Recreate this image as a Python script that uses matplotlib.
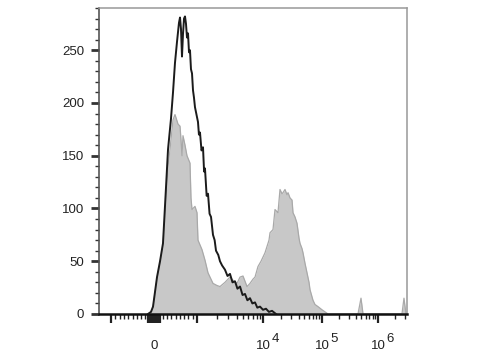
import numpy as np
import matplotlib
matplotlib.use("Agg")
import matplotlib.pyplot as plt
from matplotlib.ticker import MultipleLocator, FixedLocator, FixedFormatter
from matplotlib.transforms import blended_transform_factory, ScaledTranslation

# ---------------- data (fluorescence intensity, event count) ----------------
black_x = [-140, -70, -23, 70, 140, 209, 279, 326, 395, 442, 488, 535, 581, 605,
           628, 651, 674, 698, 721, 744, 767, 791, 814, 837, 860, 884, 907, 930,
           953, 1035, 1070, 1110, 1170, 1233, 1280, 1321, 1400, 1468, 1550,
           1631, 1747, 1850, 1941, 2100, 2230, 2400, 2653, 2900, 3162, 3450,
           3765, 4100, 4487, 4900, 5337, 5800, 6353, 6900, 7570, 8200, 9010,
           10000, 11240, 12600, 14220, 16600]
black_y = [0, 2, 7, 35, 50, 67, 120, 156, 185, 210, 238, 258, 276, 281,
           270, 244, 265, 280, 282, 275, 262, 266, 248, 250, 232, 228, 212, 205,
           196, 182, 170, 172, 155, 158, 135, 138, 112, 114, 95,
           92, 75, 70, 60, 56, 50, 46, 42, 36, 38, 30,
           31, 24, 26, 18, 19, 13, 15, 10, 11, 6, 7,
           4, 5, 2, 3, 0]

gray_x = [-140, -70, -23, 70, 140, 209, 279, 326, 372, 419, 442, 488, 535, 558,
          605, 628, 651, 674, 721, 767, 837, 860, 884, 953, 1000, 1035, 1190,
          1321, 1468, 1747, 2009, 2230, 2653, 3162, 3510, 4036, 4487, 4978,
          5728, 6353, 7047, 7570, 8395, 9330, 10000, 10810, 11690, 12640,
          13150, 14770, 15970, 17260, 17950, 19410, 20990, 21830, 23600,
          25520, 26550, 28700, 31040, 32240, 34850, 37690, 40750, 42370,
          45810, 47640, 51520, 55710, 60240, 62640, 70340, 76050, 85510,
          100000, 113200, 128000, 439500, 497000, 540000, 2680000, 2910000,
          3160000]
gray_y = [0, 2, 6, 33, 48, 65, 110, 140, 156, 175, 184, 189, 183, 180,
          178, 165, 150, 169, 160, 150, 143, 110, 99, 102, 96, 70, 61,
          51, 39, 29, 27, 26, 30, 35, 32, 29, 35, 36,
          26, 29, 33, 35, 45, 50, 54, 58, 64, 70,
          77, 80, 99, 97, 96, 118, 114, 115, 118,
          113, 115, 110, 108, 96, 92, 86, 72, 67,
          62, 58, 48, 39, 30, 23, 13, 9, 7,
          4, 2, 0, 0, 15, 0, 0, 15,
          0]

y_major = [0, 50, 100, 150, 200, 250]
x_label_values = [0, 1e4, 1e5, 1e6]
x_label_text = ["0", "10", "10", "10"]
x_label_exp = ["", "4", "5", "6"]

# ---------------- biexponential-like display scale ----------------
DEC = np.array([3.0, 4.0, 5.0, 6.0, 7.0])
POS = np.array([43.0, 109.0, 168.0, 224.0, 280.0])
LIN_V, LIN_U = 1000.0, 43.0


def fwd(v):
    v = np.asarray(v, dtype=float)
    a = np.abs(v)
    lin = a / LIN_V * LIN_U
    lg = np.interp(np.log10(np.maximum(a, LIN_V)), DEC, POS)
    return np.sign(v) * np.where(a <= LIN_V, lin, lg)


def inv(u):
    u = np.asarray(u, dtype=float)
    b = np.abs(u)
    lin = b / LIN_U * LIN_V
    lg = 10.0 ** np.interp(np.maximum(b, LIN_U), POS, DEC)
    return np.sign(u) * np.where(b <= LIN_U, lin, lg)


plt.rcParams['font.family'] = ['Liberation Sans', 'DejaVu Sans']

fig = plt.figure(figsize=(4.8, 3.6), dpi=100)
ax = fig.add_axes([99 / 480, 46 / 360, 308 / 480, 306 / 360])
ax.set_xscale('function', functions=(fwd, inv))

ax.fill_between(gray_x, gray_y, 0, color='#c8c8c8', linewidth=0, zorder=1)
ax.plot(gray_x, gray_y, color='#a9a9a9', lw=0.9, zorder=2)
ax.plot(black_x, black_y, color='#1b1b1b', lw=1.4, zorder=3)

ax.set_xlim(float(inv(-55)), float(inv(253)))
ax.set_ylim(0, 290)

FS = 9.5

# y ticks
ax.yaxis.set_major_locator(FixedLocator(y_major))
ax.yaxis.set_minor_locator(MultipleLocator(10))
ax.tick_params(axis='y', which='major', length=5.8, width=2.0, color='#333',
               labelsize=FS, pad=5, labelcolor='#222')
ax.tick_params(axis='y', which='minor', length=2.9, width=1.0, color='#333')

# x ticks
x_major = [-1000, -150, -100, -50, 0, 50, 100, 150, 1000] + x_label_values[1:]
x_major_lbl = [""] * 4 + ["0"] + [""] * 4 + x_label_text[1:]
ax.xaxis.set_major_locator(FixedLocator(x_major))
ax.xaxis.set_major_formatter(FixedFormatter(x_major_lbl))
minor = [s * m for s in (-1, 1) for m in range(200, 1000, 100)]
for k in (3, 4, 5):
    minor += [m * 10 ** k for m in range(2, 10)]
minor += [2e6, 3e6]
ax.xaxis.set_minor_locator(FixedLocator(minor))
ax.tick_params(axis='x', which='major', length=6.5, width=1.6, color='#222',
               labelsize=FS, pad=12.5, labelcolor='#222')
ax.tick_params(axis='x', which='minor', length=3.6, width=1.0, color='#222')

# superscripts
trans = blended_transform_factory(ax.transData, ax.transAxes)
for v, e in zip(x_label_values, x_label_exp):
    if e:
        ax.text(v, 0, e, transform=trans + ScaledTranslation(0.125, -0.245, fig.dpi_scale_trans),
                ha='center', va='center', fontsize=FS, color='#222')

for side in ('top', 'right'):
    ax.spines[side].set_color('#999999')
    ax.spines[side].set_linewidth(1.1)
ax.spines['left'].set_color('#555555')
ax.spines['left'].set_linewidth(1.2)
ax.spines['bottom'].set_color('#111111')
ax.spines['bottom'].set_linewidth(1.8)

fig.savefig('out.png', dpi=100)
